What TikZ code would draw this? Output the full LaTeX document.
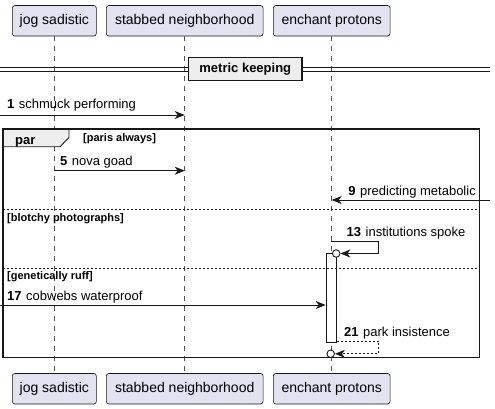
\documentclass[tikz,border=0pt]{standalone}
\usepackage{fontspec}
\setmainfont{Liberation Sans}
\usetikzlibrary{arrows.meta}
\definecolor{partfill}{HTML}{E2E2F0}
\definecolor{lineblack}{HTML}{181818}
\definecolor{grpfill}{HTML}{EEEEEE}
\tikzset{
 part/.style={draw=lineblack, fill=partfill, rounded corners=2.5pt, line width=0.6pt, inner sep=0pt, font=\fontsize{14}{16}\selectfont},
 life/.style={draw=lineblack!75, dash pattern=on 5pt off 5pt, line width=0.6pt},
 msg/.style={draw=lineblack, line width=0.9pt, -{Stealth[length=10pt,width=8pt,inset=3pt]}},
 ret/.style={msg, dash pattern=on 2pt off 2pt},
 lbl/.style={anchor=base west, inner sep=0pt, font=\fontsize{13}{15}\selectfont},
 grp/.style={anchor=base west, inner sep=0pt, font=\bfseries\fontsize{11}{13}\selectfont},
 sepline/.style={draw=lineblack, line width=0.6pt, dash pattern=on 2pt off 2pt},
 circ/.style={circle, draw=lineblack, fill=white, line width=0.9pt, minimum size=7.5pt, inner sep=0pt},
 actbox/.style={draw=lineblack, fill=white, line width=0.9pt, inner sep=0pt},
}
\newcommand{\num}[1]{{\bfseries #1}\hspace{4.5pt}}
\begin{document}
\begin{tikzpicture}[x=1pt,y=-1pt]
\useasboundingbox (0,0) rectangle (495,409);
% participants
\node[part, minimum width=84pt, minimum height=30.5pt] (jT) at (54.3,20.8) {jog sadistic};
\node[part, minimum width=156.7pt, minimum height=30.5pt] (sT) at (184.7,20.8) {stabbed neighborhood};
\node[part, minimum width=116.7pt, minimum height=30.5pt] (eT) at (331.7,20.8) {enchant protons};
\node[part, minimum width=84pt, minimum height=30.5pt] (jB) at (54.3,388.7) {jog sadistic};
\node[part, minimum width=156.7pt, minimum height=30.5pt] (sB) at (184.7,388.7) {stabbed neighborhood};
\node[part, minimum width=116.7pt, minimum height=30.5pt] (eB) at (331.7,388.7) {enchant protons};
% lifelines
\draw[life] (jT.south) -- (jB.north);
\draw[life] (sT.south) -- (sB.north);
\draw[life] (eT.south) -- (eB.north);
% divider
\draw[draw=lineblack, line width=0.9pt] (0,67.3) -- (490,67.3);
\draw[draw=lineblack, line width=0.9pt] (0,71.3) -- (490,71.3);
\node[draw=lineblack, fill=grpfill, line width=1.5pt, minimum width=113.3pt, minimum height=23.3pt, inner sep=0pt, font=\bfseries\fontsize{13}{15}\selectfont] (div) at (245.3,69) {metric keeping};
% message 1
\coordinate (m1s) at (0,115);
\draw[msg] (m1s) -- (m1s -| sT.south);
\node[lbl] (l1) at (7,109) {\num{1}schmuck performing};
% par frame
\draw[draw=lineblack, line width=1.5pt] (3,129) rectangle (479.5,357.3);
\draw[draw=lineblack, fill=grpfill, line width=0.9pt] (3,129) -- (69,129) -- (69,137.5) -- (60,146.7) -- (3,146.7) -- cycle;
\draw[draw=lineblack, line width=1.5pt] (3,129) -- (479.5,129) -- (479.5,357.3) -- (3,357.3) -- cycle;
\node[grp, font=\bfseries\fontsize{13}{15}\selectfont] (par) at (15,145) {par};
\node[grp] (g1) at (83,141.7) {[paris always]};
% message 5
\coordinate (m5) at (0,170.7);
\draw[msg] (m5 -| jT.south) -- (m5 -| sT.south);
\node[lbl] (l5) at (60,165.5) {\num{5}nova goad};
% message 9
\coordinate (m9s) at (490,200);
\draw[msg] (m9s) -- (m9s -| eT.south);
\node[lbl, anchor=base east] (l9) at (476,195) {\num{9}predicting metabolic};
% separator 1
\draw[sepline] (3,209.3) -- (479.5,209.3);
\node[grp] (g2) at (7,221.5) {[blotchy photographs]};
% activation
\node[actbox, minimum width=10.3pt, minimum height=88.3pt] (act) at (331.3,297.85) {};
% message 13
\node[circ] (c13) at (336.2,253.5) {};
\coordinate (m13s) at (331.3,241.5);
\coordinate (m13r) at (378.3,241.5);
\draw[msg] (m13s) -- (m13r) |- (c13.east);
\node[lbl] (l13) at (346.5,236.7) {\num{13}institutions spoke};
% separator 2
\draw[sepline] (3,268.3) -- (479.5,268.3);
\node[grp] (g3) at (7,279) {[genetically ruff]};
% message 17
\coordinate (m17s) at (0,305);
\draw[msg] (m17s) -- (m17s -| act.west);
\node[lbl] (l17) at (7,300) {\num{17}cobwebs waterproof};
% message 21
\node[circ] (c21) at (330.7,353.8) {};
\coordinate (m21s) at (336.5,341);
\coordinate (m21r) at (378.3,341);
\draw[ret] (m21s) -- (m21r) |- (c21.east);
\node[lbl] (l21) at (344,336) {\num{21}park insistence};
\end{tikzpicture}
\end{document}
